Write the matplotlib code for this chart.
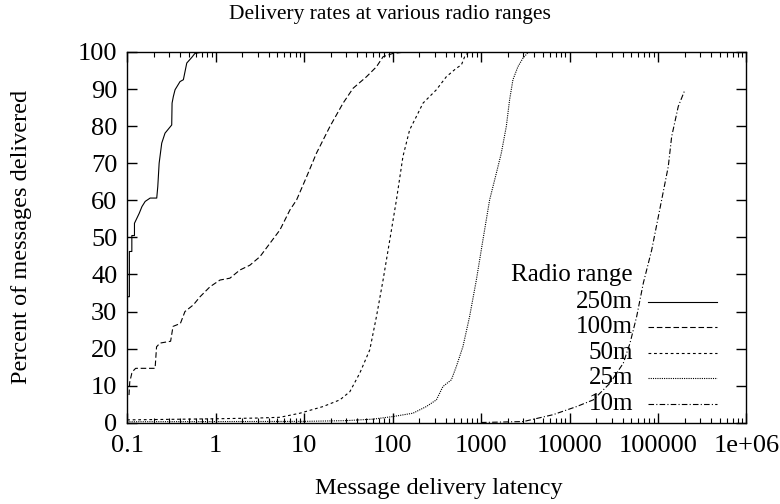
import numpy as np
import matplotlib
matplotlib.use("Agg")
import matplotlib.pyplot as plt

plt.rcParams['font.family'] = ['Liberation Serif', 'DejaVu Serif']

# latency (x) and percent delivered (y)
lat_250 = [0.1, 0.106, 0.106, 0.113, 0.113, 0.121, 0.121, 0.137, 0.147, 0.160, 0.182, 0.216,
           0.222, 0.230, 0.246, 0.268, 0.319, 0.322, 0.333, 0.348, 0.396, 0.432, 0.472, 0.537,
           0.584, 0.726, 1.0]
pct_250 = [34.0, 34.0, 46.2, 46.2, 50.5, 50.5, 53.8, 56.5, 58.3, 59.7, 60.6, 60.6,
           63.7, 70.0, 75.4, 78.1, 80.3, 86.2, 88.0, 89.8, 92.0, 92.5, 97.0, 98.5,
           99.6, 100.0, 100.0]

lat_100 = [0.105, 0.107, 0.113, 0.12, 0.125, 0.207, 0.215, 0.235, 0.31, 0.33, 0.40, 0.45,
           0.56, 0.667, 0.865, 1.12, 1.45, 1.88, 2.44, 3.17, 4.11, 5.33, 6.92, 8.23,
           10.7, 13.8, 19.6, 27.6, 35.8, 50.7, 65.8, 78.1, 101, 143, 200]
pct_100 = [7.5, 11.0, 13.4, 14.3, 14.7, 14.7, 20.5, 21.5, 22.0, 26.0, 26.8, 30.0,
           31.8, 34.0, 36.7, 38.5, 39.0, 41.2, 42.5, 44.8, 48.4, 52.0, 57.4, 60.1,
           66.4, 72.7, 79.9, 86.2, 90.2, 93.3, 96.0, 98.7, 99.6, 100.0, 100.0]

lat_50 = [0.1, 1.0, 3.0, 5.33, 8.97, 16.4, 25.4, 32.9, 42.6, 55.3, 65.8, 78.1, 93.0,
          110.6, 131, 156, 186, 221, 313, 405, 526, 600, 653, 711, 1000]
pct_50 = [0.8, 1.1, 1.3, 1.5, 2.6, 4.4, 6.2, 8.4, 13.4, 19.7, 28.7, 38.5, 49.3,
          60.1, 71.8, 79.0, 82.6, 86.2, 89.8, 93.3, 95.6, 96.5, 98.7, 99.8, 100.0]

lat_25 = [0.1, 10, 30, 60, 101, 170, 241, 313, 371, 462, 526, 625, 743, 885, 1050,
          1250, 1489, 1694, 1930, 2103, 2293, 2610, 2974, 3383, 4000]
pct_25 = [0.3, 0.4, 0.6, 1.0, 1.7, 2.6, 4.4, 6.2, 9.8, 11.6, 15.2, 20.6, 28.7, 38.5, 49.3,
          60.1, 67.3, 72.7, 79.9, 87.1, 92.5, 96.0, 98.3, 99.8, 100.0]

lat_10 = [1000, 3006, 6516, 12060, 18580, 28700, 40550, 48300, 57460, 68300, 84900,
          110000, 130700, 142800, 169500, 201800]
pct_10 = [0.1, 0.35, 2.2, 4.4, 6.2, 10.7, 16.1, 21.5, 28.7, 37.7, 46.6,
          60.1, 69.1, 77.2, 85.3, 89.8]

ranges = ['250m', '100m', '50m', '25m', '10m']
lats = [lat_250, lat_100, lat_50, lat_25, lat_10]
pcts = [pct_250, pct_100, pct_50, pct_25, pct_10]
dashes = [None, (5, 2.5), (2.5, 2.5), (1, 1), (5, 2, 1, 2)]

fig = plt.figure(figsize=(7.8, 5.04), dpi=100)
ax = fig.add_axes([0.163, 0.161, 0.794, 0.736])

lines = []
for name, x, y, d in zip(ranges, lats, pcts, dashes):
    ln, = ax.plot(x, y, color='black', lw=0.8)
    if d is not None:
        ln.set_dashes(d)
    lines.append(ln)

ax.set_xscale('log')
ax.set_xlim(0.1, 1e6)
ax.set_ylim(0, 100)
ax.set_yticks(np.arange(0, 101, 10))
xt = [0.1, 1, 10, 100, 1000, 10000, 100000, 1e6]
ax.set_xticks(xt)
ax.set_xticklabels(['0.1', '1', '10', '100', '1000', '10000', '100000', '1e+06'])
ax.tick_params(which='both', direction='in', top=True, right=True, labelsize=19)
ax.tick_params(axis='x', pad=9)
ax.tick_params(axis='y', pad=7)
ax.tick_params(which='major', length=7, width=1)
ax.tick_params(which='minor', length=3.5, width=0.8)
ax.minorticks_off()
ax.xaxis.set_minor_locator(matplotlib.ticker.LogLocator(base=10, subs=np.arange(2, 10)))
ax.xaxis.set_minor_formatter(matplotlib.ticker.NullFormatter())
for s in ax.spines.values():
    s.set_linewidth(1)

fig.text(0.5, 1 - 15 / 504, 'Delivery rates at various radio ranges', fontsize=15.5,
         ha='center', va='center')
ax.set_xlabel('Message delivery latency', fontsize=17.5)
ax.set_ylabel('Percent of messages delivered', fontsize=17.5)
ax.xaxis.set_label_coords(0.504, -0.148)
ax.yaxis.set_label_coords(-0.153, 0.5)

# gnuplot style key
ax.text(0.817, 0.399, 'Radio range', transform=ax.transAxes, ha='right', va='center', fontsize=18)
for i, (name, ln) in enumerate(zip(ranges, lines)):
    yy = 0.326 - i * 0.0685
    ax.text(0.817, yy, name, transform=ax.transAxes, ha='right', va='center', fontsize=18)
    kl, = ax.plot([0.841, 0.952], [yy, yy], transform=ax.transAxes, color='black', lw=0.8)
    if dashes[i] is not None:
        kl.set_dashes(dashes[i])

fig.savefig('out.png', dpi=100)
